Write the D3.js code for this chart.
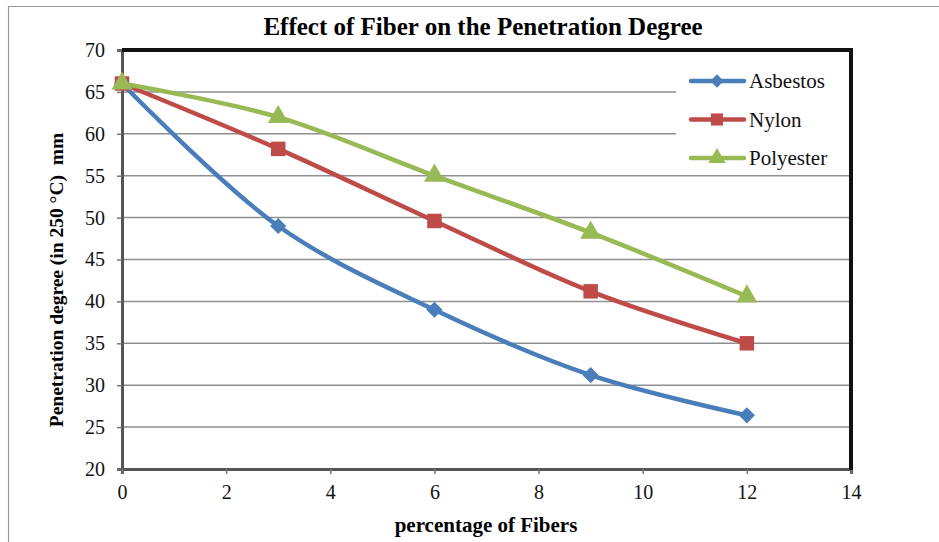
<!DOCTYPE html>
<html><head><meta charset="utf-8">
<script src="https://cdn.jsdelivr.net/npm/d3@7"></script>
<style>body{margin:0;background:#fff}svg{display:block}svg text{font-family:"Liberation Serif","Times New Roman",serif !important}</style>
</head><body><svg id="c" width="939" height="542"></svg>
<script>
const xValues = [0, 3, 6, 9, 12];
const asbestos = [66, 49, 39, 31.2, 26.4];
const nylon = [66, 58.2, 49.6, 41.2, 35];
const polyester = [66, 62, 55, 48.2, 40.6];
const seriesNames = ["Asbestos", "Nylon", "Polyester"];
const seriesColors = ["#4A7EBB", "#BE4B48", "#98B954"];
const xTicks = [0, 2, 4, 6, 8, 10, 12, 14];
const yTicks = [20, 25, 30, 35, 40, 45, 50, 55, 60, 65, 70];

const FONT = "'Liberation Serif', 'Times New Roman', serif";
const svg = d3.select("#c");
const L = 122, R = 851, T = 50, B = 469;
const x = d3.scaleLinear().domain([0, 14]).range([L, R]);
const y = d3.scaleLinear().domain([20, 70]).range([B, T]);

// outer border
svg.append("path").attr("d", "M8.5,542 V6.5 H939").attr("fill", "none").attr("stroke", "#999").attr("stroke-width", 1.2);

// title
svg.append("text").attr("x", 483).attr("y", 35).attr("text-anchor", "middle").style("font-family", FONT)
  .attr("font-size", 25).attr("font-weight", "bold").text("Effect of Fiber on the Penetration Degree");

// gridlines
svg.append("g").selectAll("line").data(yTicks.filter(d => d > 20 && d < 70)).join("line")
  .attr("x1", L).attr("x2", R).attr("y1", d => y(d)).attr("y2", d => y(d))
  .attr("stroke", "#8f8f8f").attr("stroke-width", 1.5);

// axes
const yAxis = svg.append("g").attr("transform", `translate(${L},0)`)
  .call(d3.axisLeft(y).tickValues(yTicks).tickSize(5).tickPadding(12));
yAxis.attr("font-family", null);
yAxis.select(".domain").attr("stroke", "#555").attr("stroke-width", 3);
yAxis.selectAll(".tick line").attr("stroke", "#777").attr("stroke-width", 1.5);
yAxis.selectAll("text").attr("font-size", 20).attr("fill", "#111").style("font-family", FONT);

const xAxis = svg.append("g").attr("transform", `translate(0,${B})`)
  .call(d3.axisBottom(x).tickValues(xTicks).tickSize(5).tickPadding(11));
xAxis.attr("font-family", null);
xAxis.select(".domain").attr("stroke", "#555").attr("stroke-width", 3);
xAxis.selectAll(".tick line").attr("stroke", "#777").attr("stroke-width", 1.5);
xAxis.selectAll("text").attr("font-size", 20).attr("fill", "#111").style("font-family", FONT);

// top & right borders
svg.append("path").attr("d", `M${L},${T} H${R} V${B+1}`).attr("fill", "none")
  .attr("stroke", "#111").attr("stroke-width", 4);

// axis titles
svg.append("text").attr("x", 486).attr("y", 532).attr("text-anchor", "middle").style("font-family", FONT)
  .attr("font-size", 21).attr("font-weight", "bold").text("percentage of Fibers");
svg.append("text").attr("transform", "translate(63,280) rotate(-90)").attr("text-anchor", "middle")
  .style("font-family", FONT)
  .attr("font-size", 19.5).attr("font-weight", "bold").attr("xml:space", "preserve")
  .style("white-space", "pre").text("Penetration degree (in 250 °C)  mm");

// series
const data = [asbestos, nylon, polyester];
const symbols = [d3.symbolSquare, d3.symbolSquare, d3.symbolTriangle];
const rotations = [45, 0, 0];
const symSizes = [130, 210, 190];
const line = d3.line().x(d => x(d[0])).y(d => y(d[1])).curve(d3.curveCatmullRom.alpha(0.5));
data.forEach((vals, i) => {
  const pts = xValues.map((xv, j) => [xv, vals[j]]);
  svg.append("path").datum(pts).attr("d", line).attr("fill", "none")
    .attr("stroke", seriesColors[i]).attr("stroke-width", 4.5).attr("stroke-linejoin", "round");
  svg.append("g").selectAll("path").data(pts).join("path")
    .attr("transform", d => `translate(${x(d[0])},${y(d[1])}) rotate(${rotations[i]})`)
    .attr("d", d3.symbol().type(symbols[i]).size(symSizes[i]))
    .attr("fill", seriesColors[i]);
});

// legend
svg.append("rect").attr("x", 676).attr("y", 62).attr("width", 173).attr("height", 112).attr("fill", "#fff");
seriesNames.forEach((name, i) => {
  const ly = 81 + i * 38.5;
  svg.append("line").attr("x1", 691).attr("x2", 744).attr("y1", ly).attr("y2", ly)
    .attr("stroke", seriesColors[i]).attr("stroke-width", 4.5).attr("stroke-linecap", "round");
  svg.append("path").attr("transform", `translate(717,${ly}) rotate(${rotations[i]})`)
    .attr("d", d3.symbol().type(symbols[i]).size(symSizes[i] * 0.7)).attr("fill", seriesColors[i]);
  svg.append("text").attr("x", 749).attr("y", ly + 7).attr("font-size", 21).attr("fill", "#111")
    .style("font-family", FONT).text(name);
});
</script></body></html>
